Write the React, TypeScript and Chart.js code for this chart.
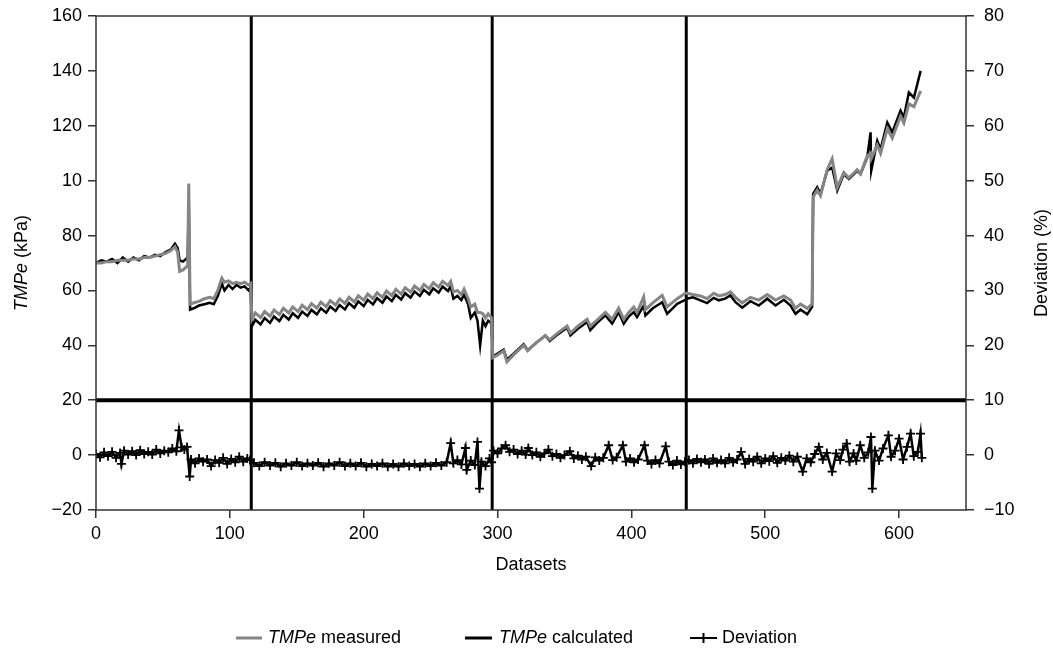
import { useEffect, useRef } from 'react';
import { Chart, registerables } from 'chart.js';

Chart.register(...registerables);

// ---- axis ticks ----
const xTickValues = [0, 100, 200, 300, 400, 500, 600];
const xTickLabels = ['0', '100', '200', '300', '400', '500', '600'];
const leftTickValues = [-20, 0, 20, 40, 60, 80, 100, 120, 140, 160];
const leftTickLabels = ['\u221220', '0', '20', '40', '60', '80', '10', '120', '140', '160'];
const rightTickValues = [-10, 0, 10, 20, 30, 40, 50, 60, 70, 80];
const rightTickLabels = ['\u221210', '0', '10', '20', '30', '40', '50', '60', '70', '80'];

// ---- reference lines ----
const separatorDatasets = [116, 296, 441];
const thresholdKPa = 20;

// ---- TMPe series (dataset index, kPa) ----
const datasetIndex = [
  0, 4, 8, 12, 16, 20, 24, 28, 32, 36, 40, 44, 48, 52, 56, 59, 61, 62.5, 65, 68.5, 69.3, 70.3, 73, 77, 81, 85, 88, 91, 94, 96, 99, 102, 105, 108, 111, 114, 115.5,
  116.5, 119, 123, 126, 130, 133, 137, 140, 144, 147, 151, 154, 158, 161, 165, 168, 172, 175, 179, 182, 186, 189, 193, 196, 200, 203, 207, 210, 214, 217, 221, 224, 228, 231, 235, 238, 242, 245, 249, 252, 256, 259, 263, 265, 267, 270, 273, 275, 278, 280, 283, 285, 287, 289, 291, 293, 295.5,
  296.5, 300, 304.6, 307, 312, 319.5, 322.5, 329, 335.7, 339, 345, 352, 354.4, 360, 366.9, 369.3, 375, 380.6, 385.6, 390.5, 394.3, 398, 401.8, 404.2, 409.2, 410.5, 416, 423, 426.7, 434.2, 440.4,
  441.5, 446, 451.6, 456.6, 461.5, 465.3, 470, 474, 477.8, 482.8, 489, 495.2, 501.5, 507.7, 513.9, 518.9, 522.6, 526.4, 531.4, 535, 535.8, 538.8, 541.3, 546.3, 550, 553.8, 558.7, 562.5, 568.7, 571.2, 576.2, 578.7, 579.2, 583.7, 586.2, 591.2, 594.9, 601.1, 603.6, 607.3, 611.1, 616.1,
];

const tmpeMeasured = [
  70, 70, 70.5, 70.5, 71, 71, 71, 71.5, 71.5, 72, 72, 72.5, 73, 73.5, 74.5, 76, 74, 67, 67.5, 69, 99, 55, 55.5, 56, 57, 57.5, 57, 60, 64.5, 63, 63.5, 62.5, 63, 62.5, 63, 62, 62.5,
  49.5, 51.8, 50.1, 52.3, 50.6, 52.9, 51.2, 53.5, 51.8, 54.0, 52.3, 54.6, 53.0, 55.2, 53.6, 55.7, 54.1, 56.3, 54.7, 56.9, 55.3, 57.5, 55.8, 58.1, 56.4, 58.7, 57.0, 59.2, 57.5, 59.8, 58.1, 60.4, 58.7, 61.0, 59.4, 61.6, 60.0, 62.2, 60.6, 62.8, 61.2, 63.3, 61.8, 63.3, 59.5, 60, 58.5, 60.5, 57, 54, 55, 52, 52, 51.5, 50, 51.5, 50,
  35.5, 36.5, 38, 34, 36.5, 40, 38, 41, 43.5, 42, 44.5, 47, 44.5, 47, 49.5, 47, 49.5, 52, 49.5, 53.5, 49.5, 52, 54, 52, 57.6, 53, 55.5, 58.2, 54, 57, 59,
  59, 58.5, 58, 57, 59, 58, 58.5, 59.5, 57.5, 55.5, 57.5, 56.5, 58.5, 56.5, 58, 56.5, 53.5, 55, 53.5, 55, 94, 96.5, 94.5, 104, 108, 97.5, 103, 101, 104, 102.5, 109, 110, 108, 113, 110, 119, 115.5, 123.5, 121, 128, 127, 132.7,
];

const tmpeCalculated = [
  70, 71, 70.5, 71.5, 70, 72, 70.5, 72, 71, 72.5, 72, 73, 72.5, 74, 75, 77, 75.5, 71, 70.5, 72, 93, 53, 53.5, 54.5, 55, 55.5, 55, 58, 62.5, 60, 62, 60.5, 62, 61, 61.5, 60, 61,
  47, 49.3, 47.6, 49.9, 48.2, 50.5, 48.8, 51.1, 49.4, 51.7, 50.0, 52.3, 50.7, 52.9, 51.3, 53.5, 51.9, 54.1, 52.5, 54.7, 53.1, 55.4, 53.7, 56.0, 54.3, 56.6, 54.9, 57.2, 55.5, 57.8, 56.1, 58.4, 56.7, 59.0, 57.4, 59.6, 58.0, 60.2, 58.6, 60.8, 59.2, 61.4, 59.8, 61.5, 57, 58, 56.5, 58.5, 55, 50, 52, 49, 40, 49, 47, 49, 48,
  36, 37, 38.4, 34.8, 37, 40.4, 38.2, 41, 43.6, 41.6, 44, 46.4, 43.6, 46, 48.5, 45.5, 48.5, 50.9, 47.9, 52.1, 47.9, 50.5, 52.1, 50.3, 54.5, 50.9, 53.5, 55.7, 51.5, 55.1, 56.6,
  57, 57.5, 56.4, 55.4, 57.3, 56.4, 57, 58.2, 55.7, 53.7, 56.1, 54.5, 57, 54.5, 56.6, 54.5, 51.5, 53, 51.3, 54, 95.2, 97.6, 95.2, 103.6, 104.8, 96.4, 102.4, 100.6, 103.6, 102.4, 108.5, 117.6, 103.6, 114.5, 111.5, 121.2, 117.6, 125.5, 123, 132.1, 130.3, 140,
];

// ---- Deviation series (dataset index, %) ----
const deviationIndex = [
  0, 3, 6, 9, 12, 15, 18, 19, 21, 24, 27, 30, 33, 36, 39, 42, 45, 48, 51, 54, 57, 60, 62, 64, 66, 68, 70, 71, 74, 77, 80, 83, 86, 89, 92, 95, 98, 101, 104, 107, 110, 113, 115,
  118, 122, 126, 130, 134, 138, 142, 146, 150, 154, 158, 162, 166, 170, 174, 178, 182, 186, 190, 194, 198, 202, 206, 210, 214, 218, 222, 226, 230, 234, 238, 242, 246, 250, 254, 258, 262, 265, 267, 270, 273, 276, 277, 280, 283, 285, 286.5, 288, 291, 294, 295.5,
  297, 300, 303, 306, 309, 312, 315, 318, 321, 323, 326, 329, 332, 335, 338, 341, 344, 347, 350, 354, 357, 360, 363, 366, 370, 373, 376, 379, 383, 386, 389, 393.6, 396, 399, 402, 405, 409.8, 412, 415, 418, 421, 425.6, 428, 431, 434, 437, 440,
  443, 446, 449, 452, 455, 458, 461, 464, 467, 470, 473, 476, 479, 482, 485, 488, 491, 494, 497, 500, 503, 506, 509, 512, 515, 518, 521, 524, 528, 531, 534, 537, 540, 543, 546, 550, 553, 556, 558, 560.8, 563, 566, 568, 571, 574, 577, 579, 580, 582, 585, 588, 592, 594, 597, 600, 603, 606, 608.6, 611, 614, 616, 617,
];

const deviationPct = [
  0.2, -0.4, 0.5, -0.2, 0.6, -0.5, 0.4, -1.6, 0.8, 0.1, 0.7, 0.0, 0.9, 0.2, 0.6, 0.1, 1.0, 0.3, 0.8, 0.5, 1.2, 0.7, 4.5, 1.4, 1.0, 1.5, -3.9, -0.8, -1.5, -0.6, -1.2, -0.8, -2.0, -0.9, -1.4, -0.5, -1.6, -0.7, -1.3, -0.3, -1.2, -0.6, -0.9,
  -1.4, -2.0, -1.3, -1.9, -1.4, -2.1, -1.5, -1.9, -1.3, -2.0, -1.5, -1.9, -1.4, -2.1, -1.5, -1.9, -1.3, -2.0, -1.5, -2.0, -1.4, -2.1, -1.6, -2.0, -1.5, -2.1, -1.6, -2.1, -1.5, -2.0, -1.6, -2.1, -1.5, -2.0, -1.4, -1.9, -1.3, 2.2, -1.5, -0.9, -1.7, 1.3, -2.7, -1.0, -1.8, 2.4, -6.1, -1.2, -2.0, -0.6, -1.3,
  0.8, 0.3, 1.2, 1.8, 0.6, 1.0, 0.2, 0.8, 0.1, 1.3, 0.0, 0.5, -0.3, 0.3, 1.0, -0.2, 0.2, -0.5, 0.0, 0.7, -0.6, -0.1, -0.8, -0.3, -2.0, -0.4, -1.0, -0.5, 1.8, -0.9, -0.4, 1.8, -1.2, -0.6, -1.3, -0.8, 1.8, -1.0, -1.6, -0.9, -1.5, 1.6, -1.2, -1.8, -1.0, -1.7, -1.2,
  -0.9, -1.5, -0.7, -1.3, -0.8, -1.6, -0.6, -1.4, -0.9, -1.5, -0.5, -1.3, -0.8, 0.6, -1.6, -0.7, -1.2, -0.3, -1.5, -0.6, -1.1, -0.2, -1.4, -0.5, -1.0, -0.1, -1.2, -0.3, -3.0, -0.6, -1.3, 0.2, 1.5, -0.8, 0.4, -3.0, 0.3, -0.9, 1.0, 2.1, -1.2, 0.3, -1.0, 1.8, -0.5, 0.5, 3.3, -6.1, 0.8, -1.0, 1.2, 3.6, -0.3, 0.8, 3.0, -0.8, 1.5, 3.9, -0.2, 0.6, 3.9, -0.5,
];

const FONT = '"Liberation Sans", Arial, Helvetica, sans-serif';
const GRAY = '#858585';

type Part = { t: string; i?: boolean };

function drawMixed(ctx: CanvasRenderingContext2D, parts: Part[], x: number, y: number, size: number, align: 'left' | 'center') {
  const fonts = parts.map((p) => `${p.i ? 'italic ' : ''}${size}px ${FONT}`);
  const widths = parts.map((p, k) => {
    ctx.font = fonts[k];
    return ctx.measureText(p.t).width;
  });
  const total = widths.reduce((a, b) => a + b, 0);
  let cx = align === 'center' ? x - total / 2 : x;
  ctx.textAlign = 'left';
  ctx.textBaseline = 'middle';
  parts.forEach((p, k) => {
    ctx.font = fonts[k];
    ctx.fillText(p.t, cx, y);
    cx += widths[k];
  });
}

const overlayPlugin = {
  id: 'overlay',
  afterDraw(chart: any) {
    const ctx: CanvasRenderingContext2D = chart.ctx;
    const a = chart.chartArea;
    ctx.save();
    ctx.strokeStyle = '#333';
    ctx.lineWidth = 1.5;
    ctx.strokeRect(a.left, a.top, a.right - a.left, a.bottom - a.top);

    ctx.fillStyle = '#000';
    const midY = (a.top + a.bottom) / 2;
    const midX = (a.left + a.right) / 2;

    drawMixed(ctx, [{ t: 'Datasets' }], midX, 565, 18, 'center');

    ctx.save();
    ctx.translate(22, midY);
    ctx.rotate(-Math.PI / 2);
    drawMixed(ctx, [{ t: 'TMPe', i: true }, { t: ' (kPa)' }], 0, 0, 18, 'center');
    ctx.restore();

    ctx.save();
    ctx.translate(1042, midY);
    ctx.rotate(-Math.PI / 2);
    drawMixed(ctx, [{ t: 'Deviation (%)' }], 0, 0, 18, 'center');
    ctx.restore();

    const ly = 638;
    ctx.lineWidth = 3;
    ctx.strokeStyle = GRAY;
    ctx.beginPath();
    ctx.moveTo(236, ly);
    ctx.lineTo(262, ly);
    ctx.stroke();
    drawMixed(ctx, [{ t: 'TMPe', i: true }, { t: ' measured' }], 268, ly, 18, 'left');

    ctx.strokeStyle = '#000';
    ctx.beginPath();
    ctx.moveTo(465, ly);
    ctx.lineTo(492, ly);
    ctx.stroke();
    drawMixed(ctx, [{ t: 'TMPe', i: true }, { t: ' calculated' }], 499, ly, 18, 'left');

    ctx.lineWidth = 2;
    ctx.beginPath();
    ctx.moveTo(690, ly);
    ctx.lineTo(717, ly);
    ctx.moveTo(703.5, ly - 5);
    ctx.lineTo(703.5, ly + 5);
    ctx.stroke();
    drawMixed(ctx, [{ t: 'Deviation' }], 722, ly, 18, 'left');

    ctx.restore();
  },
};

const noPad = (s: any) => {
  s.paddingTop = 0;
  s.paddingBottom = 0;
};

export default function App() {
  const canvasRef = useRef<HTMLCanvasElement | null>(null);

  useEffect(() => {
    const canvas = canvasRef.current;
    if (!canvas) return;

    const measured = datasetIndex.map((x, k) => ({ x, y: tmpeMeasured[k] }));
    const calculated = datasetIndex.map((x, k) => ({ x, y: tmpeCalculated[k] }));
    const deviation = deviationIndex.map((x, k) => ({ x, y: deviationPct[k] }));

    const separators = separatorDatasets.map((sx) => ({
      label: 'sep',
      data: [
        { x: sx, y: leftTickValues[0] },
        { x: sx, y: leftTickValues[leftTickValues.length - 1] },
      ],
      borderColor: '#000',
      borderWidth: 3,
      pointRadius: 0,
      yAxisID: 'yL',
    }));

    const threshold = {
      label: 'thr',
      data: [
        { x: 0, y: thresholdKPa },
        { x: 650, y: thresholdKPa },
      ],
      borderColor: '#000',
      borderWidth: 4,
      pointRadius: 0,
      yAxisID: 'yL',
    };

    const chart = new Chart(canvas, {
      type: 'line',
      data: {
        datasets: [
          {
            label: 'TMPe measured',
            data: measured,
            borderColor: GRAY,
            borderWidth: 3,
            pointRadius: 0,
            yAxisID: 'yL',
          },
          {
            label: 'TMPe calculated',
            data: calculated,
            borderColor: '#000',
            borderWidth: 2.5,
            pointRadius: 0,
            yAxisID: 'yL',
          },
          {
            label: 'Deviation',
            data: deviation,
            borderColor: '#000',
            backgroundColor: '#000',
            borderWidth: 2.5,
            pointStyle: 'cross',
            pointRadius: 4.5,
            pointBorderWidth: 1.8,
            yAxisID: 'yR',
          },
          ...separators,
          threshold,
        ] as any,
      },
      options: {
        animation: false,
        responsive: false,
        layout: { padding: { top: 16, left: 0, right: 0, bottom: 0 } },
        elements: { line: { tension: 0 } },
        plugins: {
          legend: { display: false },
          tooltip: { enabled: false },
        },
        scales: {
          x: {
            type: 'linear',
            min: 0,
            max: 650,
            afterBuildTicks: (s: any) => {
              s.ticks = xTickValues.map((v) => ({ value: v }));
            },
            afterFit: (s: any) => {
              s.height = 142;
              s.paddingLeft = 0;
              s.paddingRight = 0;
            },
            ticks: {
              callback: (v: any) => xTickLabels[xTickValues.indexOf(Number(v))] ?? '',
              color: '#000',
              font: { family: FONT, size: 18 },
              padding: 5,
              maxRotation: 0,
            },
            grid: { drawOnChartArea: false, tickLength: 8, color: '#333', lineWidth: 1.5 },
            border: { display: false },
          },
          yL: {
            type: 'linear',
            position: 'left',
            min: -20,
            max: 160,
            afterBuildTicks: (s: any) => {
              s.ticks = leftTickValues.map((v) => ({ value: v }));
            },
            afterFit: (s: any) => {
              s.width = 96;
              noPad(s);
            },
            ticks: {
              callback: (v: any) => leftTickLabels[leftTickValues.indexOf(Number(v))] ?? '',
              color: '#000',
              font: { family: FONT, size: 18 },
              padding: 6,
            },
            grid: { drawOnChartArea: false, tickLength: 8, color: '#333', lineWidth: 1.5 },
            border: { display: false },
          },
          yR: {
            type: 'linear',
            position: 'right',
            min: -10,
            max: 80,
            afterBuildTicks: (s: any) => {
              s.ticks = rightTickValues.map((v) => ({ value: v }));
            },
            afterFit: (s: any) => {
              s.width = 87;
              noPad(s);
            },
            ticks: {
              callback: (v: any) => rightTickLabels[rightTickValues.indexOf(Number(v))] ?? '',
              color: '#000',
              font: { family: FONT, size: 18 },
              padding: 10,
            },
            grid: { drawOnChartArea: false, tickLength: 8, color: '#333', lineWidth: 1.5 },
            border: { display: false },
          },
        },
      } as any,
      plugins: [overlayPlugin],
    });

    return () => {
      chart.destroy();
    };
  }, []);

  return (
    <div style={{ position: 'fixed', left: 0, top: 0, width: 1053, height: 652, background: '#fff' }}>
      <canvas ref={canvasRef} width={1053} height={652} style={{ display: 'block' }} />
    </div>
  );
}
